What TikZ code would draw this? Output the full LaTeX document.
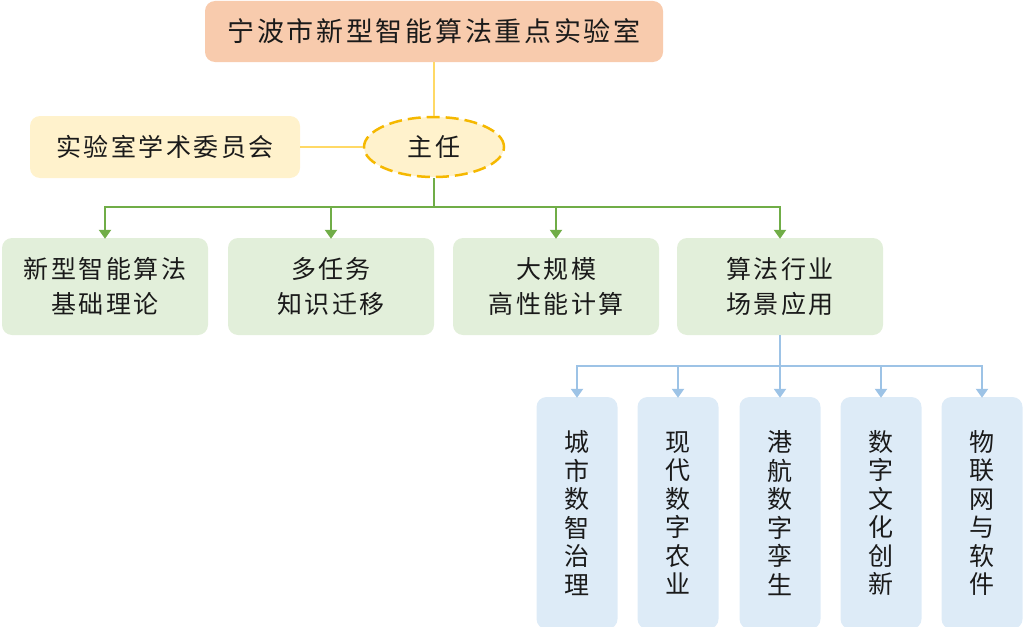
\documentclass[tikz,border=0pt]{standalone}
\usepackage{fontspec}
\setmainfont{Noto Sans CJK SC}
\usetikzlibrary{arrows.meta,shapes.geometric}
\definecolor{topfill}{HTML}{F8CBAD}
\definecolor{yfill}{HTML}{FFF2CC}
\definecolor{yline}{HTML}{FFD966}
\definecolor{ydash}{HTML}{F5B800}
\definecolor{gfill}{HTML}{E2EFDA}
\definecolor{gline}{HTML}{70AD47}
\definecolor{bfill}{HTML}{DDEBF7}
\definecolor{bline}{HTML}{9DC3E6}
\definecolor{txt}{HTML}{1A1A1A}
\newcommand{\fsA}{\fontsize{27}{32}\selectfont\addfontfeature{LetterSpace=10}}
\newcommand{\fsB}{\fontsize{25}{35}\selectfont\addfontfeature{LetterSpace=10}}
\newcommand{\fsC}{\fontsize{25}{28.5}\selectfont}
\begin{document}
\begin{tikzpicture}[x=1pt,y=-1pt,
  base/.style={rectangle, rounded corners=10pt, align=center, inner sep=0pt, text=txt},
  topbox/.style={base, fill=topfill, minimum width=458pt, minimum height=61pt, font=\fsA},
  ybox/.style={base, fill=yfill, minimum width=270pt, minimum height=62pt, font=\fsB},
  ell/.style={ellipse, draw=ydash, line width=2.5pt, dash pattern=on 13pt off 6pt, fill=yfill, minimum width=140pt, minimum height=60pt, inner sep=0pt, font=\fsB, text=txt},
  gbox/.style={base, fill=gfill, minimum width=206pt, minimum height=97pt, font=\fsB},
  bbox/.style={base, fill=bfill, minimum width=81pt, minimum height=232pt, font=\fsC},
  yconn/.style={draw=yline, line width=2.8pt},
  gconn/.style={draw=gline, line width=2.8pt},
  garr/.style={gconn, -{Triangle[width=12pt,length=9pt]}},
  bconn/.style={draw=bline, line width=2.8pt},
  barr/.style={bconn, -{Triangle[width=12pt,length=9pt]}}
]
\useasboundingbox (0,0) rectangle (1024,626);
\node[topbox] (top) at (434,31.5) {宁波市新型智能算法重点实验室};
\node[ell] (zr) at (434,147) {主任};
\node[ybox] (wyh) at (165,147) {实验室学术委员会};
\node[gbox] (g1) at (105,286.5) {新型智能算法\\基础理论};
\node[gbox] (g2) at (331,286.5) {多任务\\知识迁移};
\node[gbox] (g3) at (556,286.5) {大规模\\高性能计算};
\node[gbox] (g4) at (780,286.5) {算法行业\\场景应用};
\node[bbox] (c1) at (577,513) {城\\市\\数\\智\\治\\理};
\node[bbox] (c2) at (678,513) {现\\代\\数\\字\\农\\业};
\node[bbox] (c3) at (780,513) {港\\航\\数\\字\\孪\\生};
\node[bbox] (c4) at (881,513) {数\\字\\文\\化\\创\\新};
\node[bbox] (c5) at (982,513) {物\\联\\网\\与\\软\\件};
\coordinate (gs) at (434,207);
\coordinate (bs) at (780,366);
\draw[yconn] (top.south) -- (zr.north);
\draw[yconn] (wyh.east) -- (zr.west);
\draw[gconn] (zr.south) -- (gs);
\foreach \n in {g1,g2,g3,g4} \draw[garr] (gs) -| ([yshift=-1pt]\n.north);
\draw[bconn] (g4.south) -- (bs);
\foreach \n in {c1,c2,c3,c4,c5} \draw[barr] (bs) -| ([yshift=-1pt]\n.north);
\end{tikzpicture}
\end{document}
